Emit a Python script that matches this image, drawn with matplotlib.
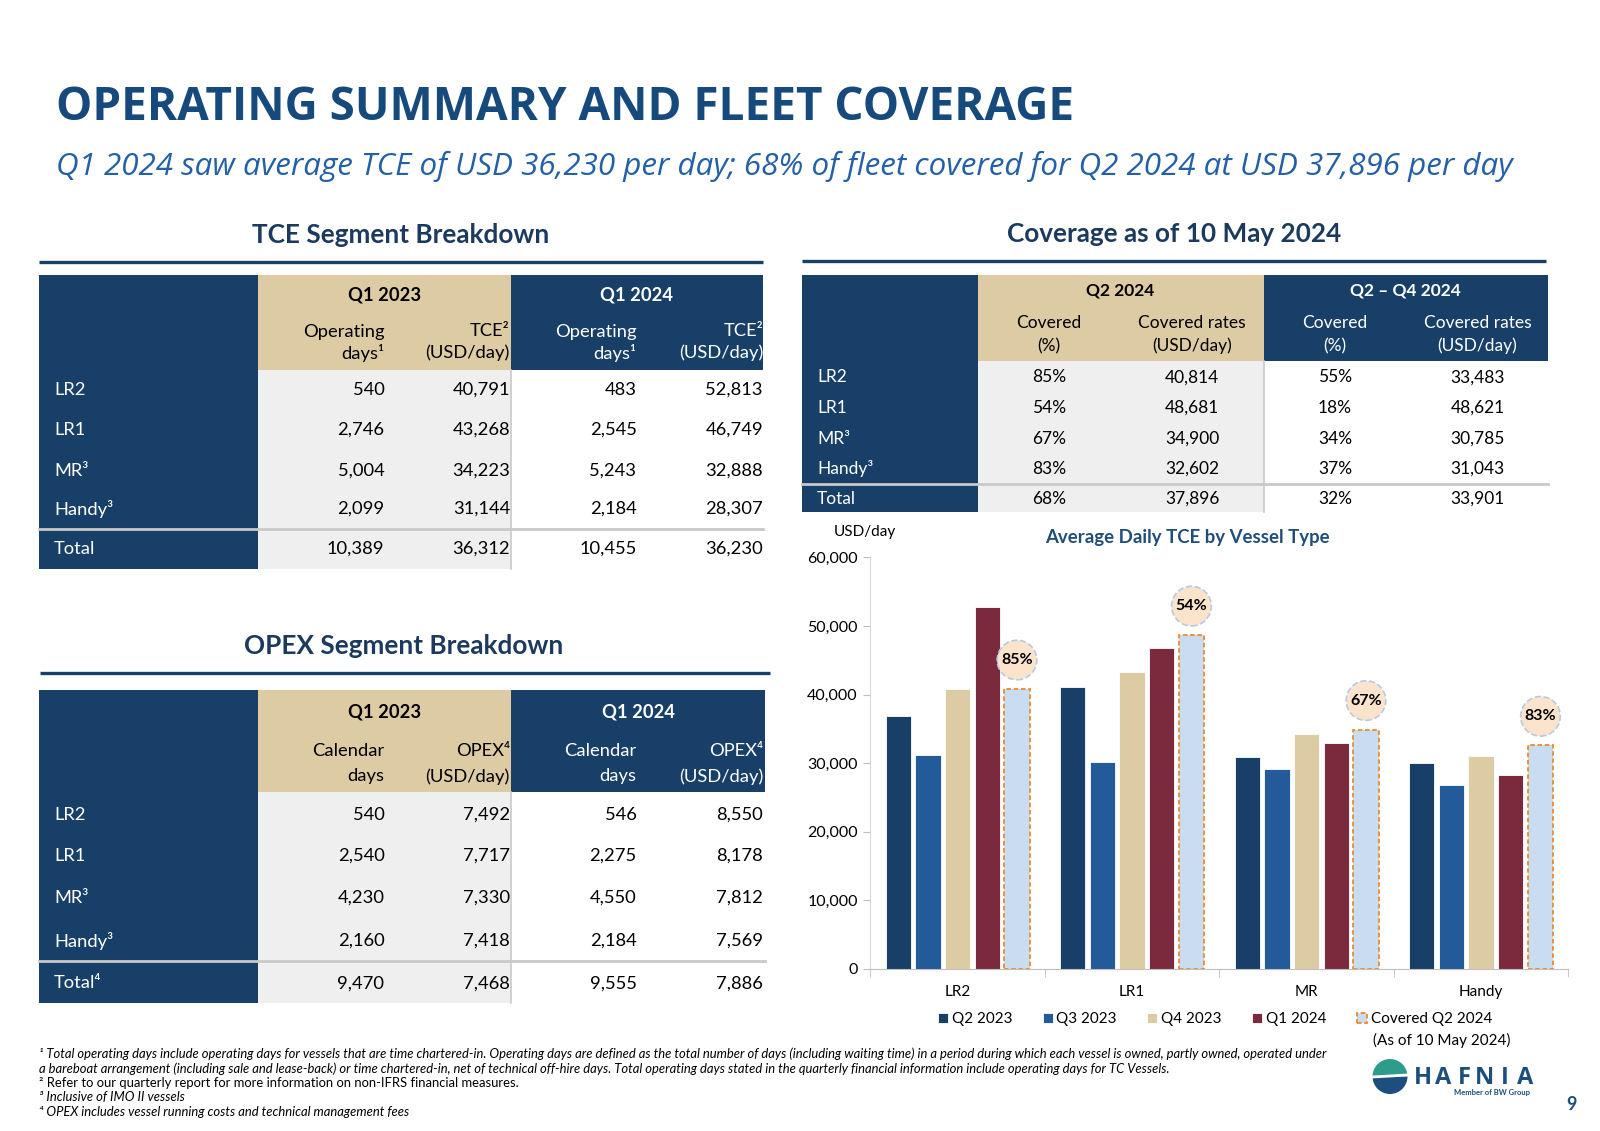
import matplotlib
matplotlib.use("Agg")
import matplotlib.pyplot as plt
import numpy as np
from matplotlib.patches import Rectangle, Wedge
from matplotlib.ticker import FuncFormatter

plt.rcParams["font.family"] = ["Lato", "DejaVu Sans"]

NAVY = "#183F67"
BEIGE = "#DDCBA4"
GREY = "#EFEFEF"
RULE = "#C9C9C9"
TITLE_BLUE = "#174A7C"
HEAD_BLUE = "#1B3A5E"

# TCE segment breakdown
tce_labels = ["LR2", "LR1", "MR³", "Handy³", "Total"]
tce_days_q1_2023 = [540, 2746, 5004, 2099, 10389]
tce_rate_q1_2023 = [40791, 43268, 34223, 31144, 36312]
tce_days_q1_2024 = [483, 2545, 5243, 2184, 10455]
tce_rate_q1_2024 = [52813, 46749, 32888, 28307, 36230]

# OPEX segment breakdown
opex_labels = ["LR2", "LR1", "MR³", "Handy³", "Total⁴"]
opex_days_q1_2023 = [540, 2540, 4230, 2160, 9470]
opex_rate_q1_2023 = [7492, 7717, 7330, 7418, 7468]
opex_days_q1_2024 = [546, 2275, 4550, 2184, 9555]
opex_rate_q1_2024 = [8550, 8178, 7812, 7569, 7886]

# Coverage as of 10 May 2024
cov_labels = ["LR2", "LR1", "MR³", "Handy³", "Total"]
cov_q2_pct = [85, 54, 67, 83, 68]
cov_q2_rate = [40814, 48681, 34900, 32602, 37896]
cov_q2q4_pct = [55, 18, 34, 37, 32]
cov_q2q4_rate = [33483, 48621, 30785, 31043, 33901]

# Average daily TCE by vessel type
vessel_types = ["LR2", "LR1", "MR", "Handy"]
tce_q2_2023 = [36900, 41100, 30900, 30050]
tce_q3_2023 = [31200, 30150, 29100, 26750]
tce_q4_2023 = [40800, 43230, 34200, 31100]
tce_q1_2024 = [52813, 46749, 32888, 28307]
covered_q2_2024 = cov_q2_rate[:4]
covered_pct = cov_q2_pct[:4]
series_names = ["Q2 2023", "Q3 2023", "Q4 2023", "Q1 2024", "Covered Q2 2024"]
series_colors = [NAVY, "#225A9A", BEIGE, "#7B2A3E", "#C9DCF0"]

footnotes = [
    ("¹ Total operating days include operating days for vessels that are time chartered-in. Operating days are defined as the total number of days (including waiting time) in a period during which each vessel is owned, partly owned, operated under", "italic"),
    ("a bareboat arrangement (including sale and lease-back) or time chartered-in, net of technical off-hire days. Total operating days stated in the quarterly financial information include operating days for TC Vessels.", "italic"),
    ("² Refer to our quarterly report for more information on non-IFRS financial measures.", "normal"),
    ("³ Inclusive of IMO II vessels", "italic"),
    ("⁴ OPEX includes vessel running costs and technical management fees", "italic"),
]


def fmt(values):
    return [f"{v:,}" for v in values]


def pct(values):
    return [f"{v}%" for v in values]


def draw_table(ax, xe, top, head, bottom, sep, title_y, sub_y, row_y,
               groups, subheads, labels, cols, col_x, ha, fs):
    x0, x1, x2, x3 = xe
    ax.add_patch(Rectangle((x0, top), x1 - x0, bottom - top, fc=NAVY, lw=0))
    ax.add_patch(Rectangle((x1, top), x2 - x1, head - top, fc=BEIGE, lw=0))
    ax.add_patch(Rectangle((x2, top), x3 - x2, head - top, fc=NAVY, lw=0))
    ax.add_patch(Rectangle((x1, head), x2 - x1, bottom - head, fc=GREY, lw=0))
    ax.plot([x2, x2], [head, bottom], color=RULE, lw=1.2)
    ax.plot([x0, x3], [sep, sep], color=RULE, lw=2)
    for g, cx, c in zip(groups, [(x1 + x2) / 2, (x2 + x3) / 2], ["black", "white"]):
        ax.text(cx, title_y, g, ha="center", va="center", color=c,
                fontsize=fs, fontweight="bold")
    for j, lines in enumerate(subheads):
        c = "black" if j < 2 else "white"
        for line, y in zip(lines, sub_y):
            ax.text(col_x[j], y, line, ha=ha, va="center", color=c, fontsize=fs)
    for lab, y in zip(labels, row_y):
        ax.text(x0 + 15, y, lab, ha="left", va="center", color="white", fontsize=fs)
    for j, col in enumerate(cols):
        for v, y in zip(col, row_y):
            ax.text(col_x[j], y, v, ha=ha, va="center", color="black", fontsize=fs)


fig = plt.figure(figsize=(16, 11.31), dpi=100)
ax0 = fig.add_axes([0, 0, 1, 1])
ax0.set_xlim(0, 1600)
ax0.set_ylim(1131, 0)
ax0.axis("off")

# titles
ax0.text(56, 120, "OPERATING SUMMARY AND FLEET COVERAGE", family="Open Sans",
         fontsize=33, fontweight="bold", color=TITLE_BLUE, va="baseline")
ax0.text(56, 175, "Q1 2024 saw average TCE of USD 36,230 per day; 68% of fleet covered for Q2 2024 at USD 37,896 per day",
         family="Open Sans", fontsize=22.6, style="italic", color="#2460A7", va="baseline")

for text, cx, y, xa, xb, ly in [("TCE Segment Breakdown", 401, 235, 39, 763, 262),
                                ("Coverage as of 10 May 2024", 1174, 234, 802, 1546, 261),
                                ("OPEX Segment Breakdown", 404, 646, 40, 770, 673)]:
    ax0.text(cx, y, text, ha="center", va="center", fontsize=18.8,
             fontweight="bold", color=HEAD_BLUE)
    ax0.plot([xa, xb], [ly, ly], color=NAVY, lw=2.4, solid_capstyle="butt")

# TCE table
draw_table(ax0, (39, 258, 511, 763), 274.5, 369.5, 568.5, 528.5, 295, (331.5, 353),
           [390, 430, 470.5, 509, 549],
           ["Q1 2023", "Q1 2024"],
           [["Operating", "days¹"], ["TCE²", "(USD/day)"],
            ["Operating", "days¹"], ["TCE²", "(USD/day)"]],
           tce_labels,
           [fmt(tce_days_q1_2023), fmt(tce_rate_q1_2023),
            fmt(tce_days_q1_2024), fmt(tce_rate_q1_2024)],
           [384.5, 510, 636.5, 763], "right", 13.2)

# OPEX table
draw_table(ax0, (39, 258, 511, 765), 690, 792, 1003, 961, 712, (751, 776.5),
           [814.5, 856, 898, 941, 983.5],
           ["Q1 2023", "Q1 2024"],
           [["Calendar", "days"], ["OPEX⁴", "(USD/day)"],
            ["Calendar", "days"], ["OPEX⁴", "(USD/day)"]],
           opex_labels,
           [fmt(opex_days_q1_2023), fmt(opex_rate_q1_2023),
            fmt(opex_days_q1_2024), fmt(opex_rate_q1_2024)],
           [384.5, 510, 636.5, 763], "right", 13.2)

# Coverage table
draw_table(ax0, (802, 977.5, 1263.5, 1548), 274.5, 361, 512, 483.5, 290, (322.5, 346),
           [377.5, 408, 439, 468.5, 499],
           ["Q2 2024", "Q2 – Q4 2024"],
           [["Covered", "(%)"], ["Covered rates", "(USD/day)"],
            ["Covered", "(%)"], ["Covered rates", "(USD/day)"]],
           cov_labels,
           [pct(cov_q2_pct), fmt(cov_q2_rate), pct(cov_q2q4_pct), fmt(cov_q2q4_rate)],
           [1049, 1192, 1335, 1477.5], "center", 12.5)

# bar chart
axb = fig.add_axes([870.4 / 1600, 1 - 968.8 / 1131, 698 / 1600, 411.3 / 1131])
axb.set_facecolor("none")
x = np.arange(len(vessel_types))
step, width = 0.17, 0.145
series = [tce_q2_2023, tce_q3_2023, tce_q4_2023, tce_q1_2024]
handles = []
for i, vals in enumerate(series):
    h = axb.bar(x + (i - 2) * step, vals, width=width, color=series_colors[i],
                edgecolor="white", linewidth=0.6, label=series_names[i])
    handles.append(h)
h = axb.bar(x + 2 * step, covered_q2_2024, width=width, color=series_colors[4],
            edgecolor="#EE8A2E", linewidth=1.3, linestyle=(0, (2.5, 1.5)),
            label=series_names[4])
handles.append(h)

for xi, v, p in zip(x + 2 * step, covered_q2_2024, covered_pct):
    axb.annotate(f"{p}%", (xi, v), xytext=(0, 29), textcoords="offset pixels",
                 ha="center", va="center", fontsize=11.5, fontweight="bold",
                 bbox=dict(boxstyle="circle,pad=0.25", fc="#FCE3CB", ec="#B4CBE6",
                           ls="--", lw=1.2))

axb.set_xlim(-0.5, len(vessel_types) - 0.5)
axb.set_ylim(0, 60000)
axb.set_yticks(np.arange(0, 60001, 10000))
axb.yaxis.set_major_formatter(FuncFormatter(lambda v, _: f"{int(v):,}"))
axb.set_xticks(x)
axb.set_xticklabels(vessel_types)
axb.set_xticks(np.arange(-0.5, len(vessel_types)), minor=True)
axb.tick_params(axis="x", which="major", length=0, pad=12, labelsize=11)
axb.tick_params(axis="x", which="minor", length=6, color="#BFBFBF")
axb.tick_params(axis="y", length=5, color="#BFBFBF", labelsize=11.5, pad=4)
for s in ["top", "right"]:
    axb.spines[s].set_visible(False)
axb.spines["left"].set_color("#D9D9D9")
axb.spines["bottom"].set_color("#BFBFBF")

ax0.text(865, 532, "USD/day", ha="center", va="center", fontsize=11)
ax0.text(1187, 537, "Average Daily TCE by Vessel Type", ha="center", va="center",
         fontsize=13.4, fontweight="bold", color="#1F4E79")

fig.legend(handles=handles, labels=series_names, loc="center",
           bbox_to_anchor=(1215 / 1600, 1 - 1019 / 1131), ncol=5, frameon=False,
           fontsize=11, handlelength=0.65, handleheight=0.65, handletextpad=0.25,
           columnspacing=2.0)
ax0.text(1373, 1040, "(As of 10 May 2024)", ha="left", va="center", fontsize=11)

# footnotes
for i, (line, st) in enumerate(footnotes):
    ax0.text(39, 1054 + i * 14.5, line, ha="left", va="center", fontsize=9.4, style=st)

# logo and page number
ax0.add_patch(Wedge((1390, 1076.5), 17.5, 180, 360, fc="#2E9C8A", lw=0))
ax0.add_patch(Wedge((1390, 1076.5), 17.5, 0, 180, fc="#1C4F7D", lw=0))
ax0.plot([1373, 1407], [1077, 1075], color="white", lw=2)
for i, letter in enumerate("HAFNIA"):
    ax0.text(1423 + i * 20.5, 1078, letter, ha="center", va="center", fontsize=17,
             fontweight="bold", color="#1C4F7D", family="Open Sans")
ax0.text(1530, 1093, "Member of BW Group", ha="right", va="center", fontsize=5.5,
         fontweight="bold", color="#1C4F7D")
ax0.text(1571, 1105, "9", ha="center", va="center", fontsize=13,
         fontweight="bold", color="#1C4F7D")

fig.savefig("out.png", dpi=100)
